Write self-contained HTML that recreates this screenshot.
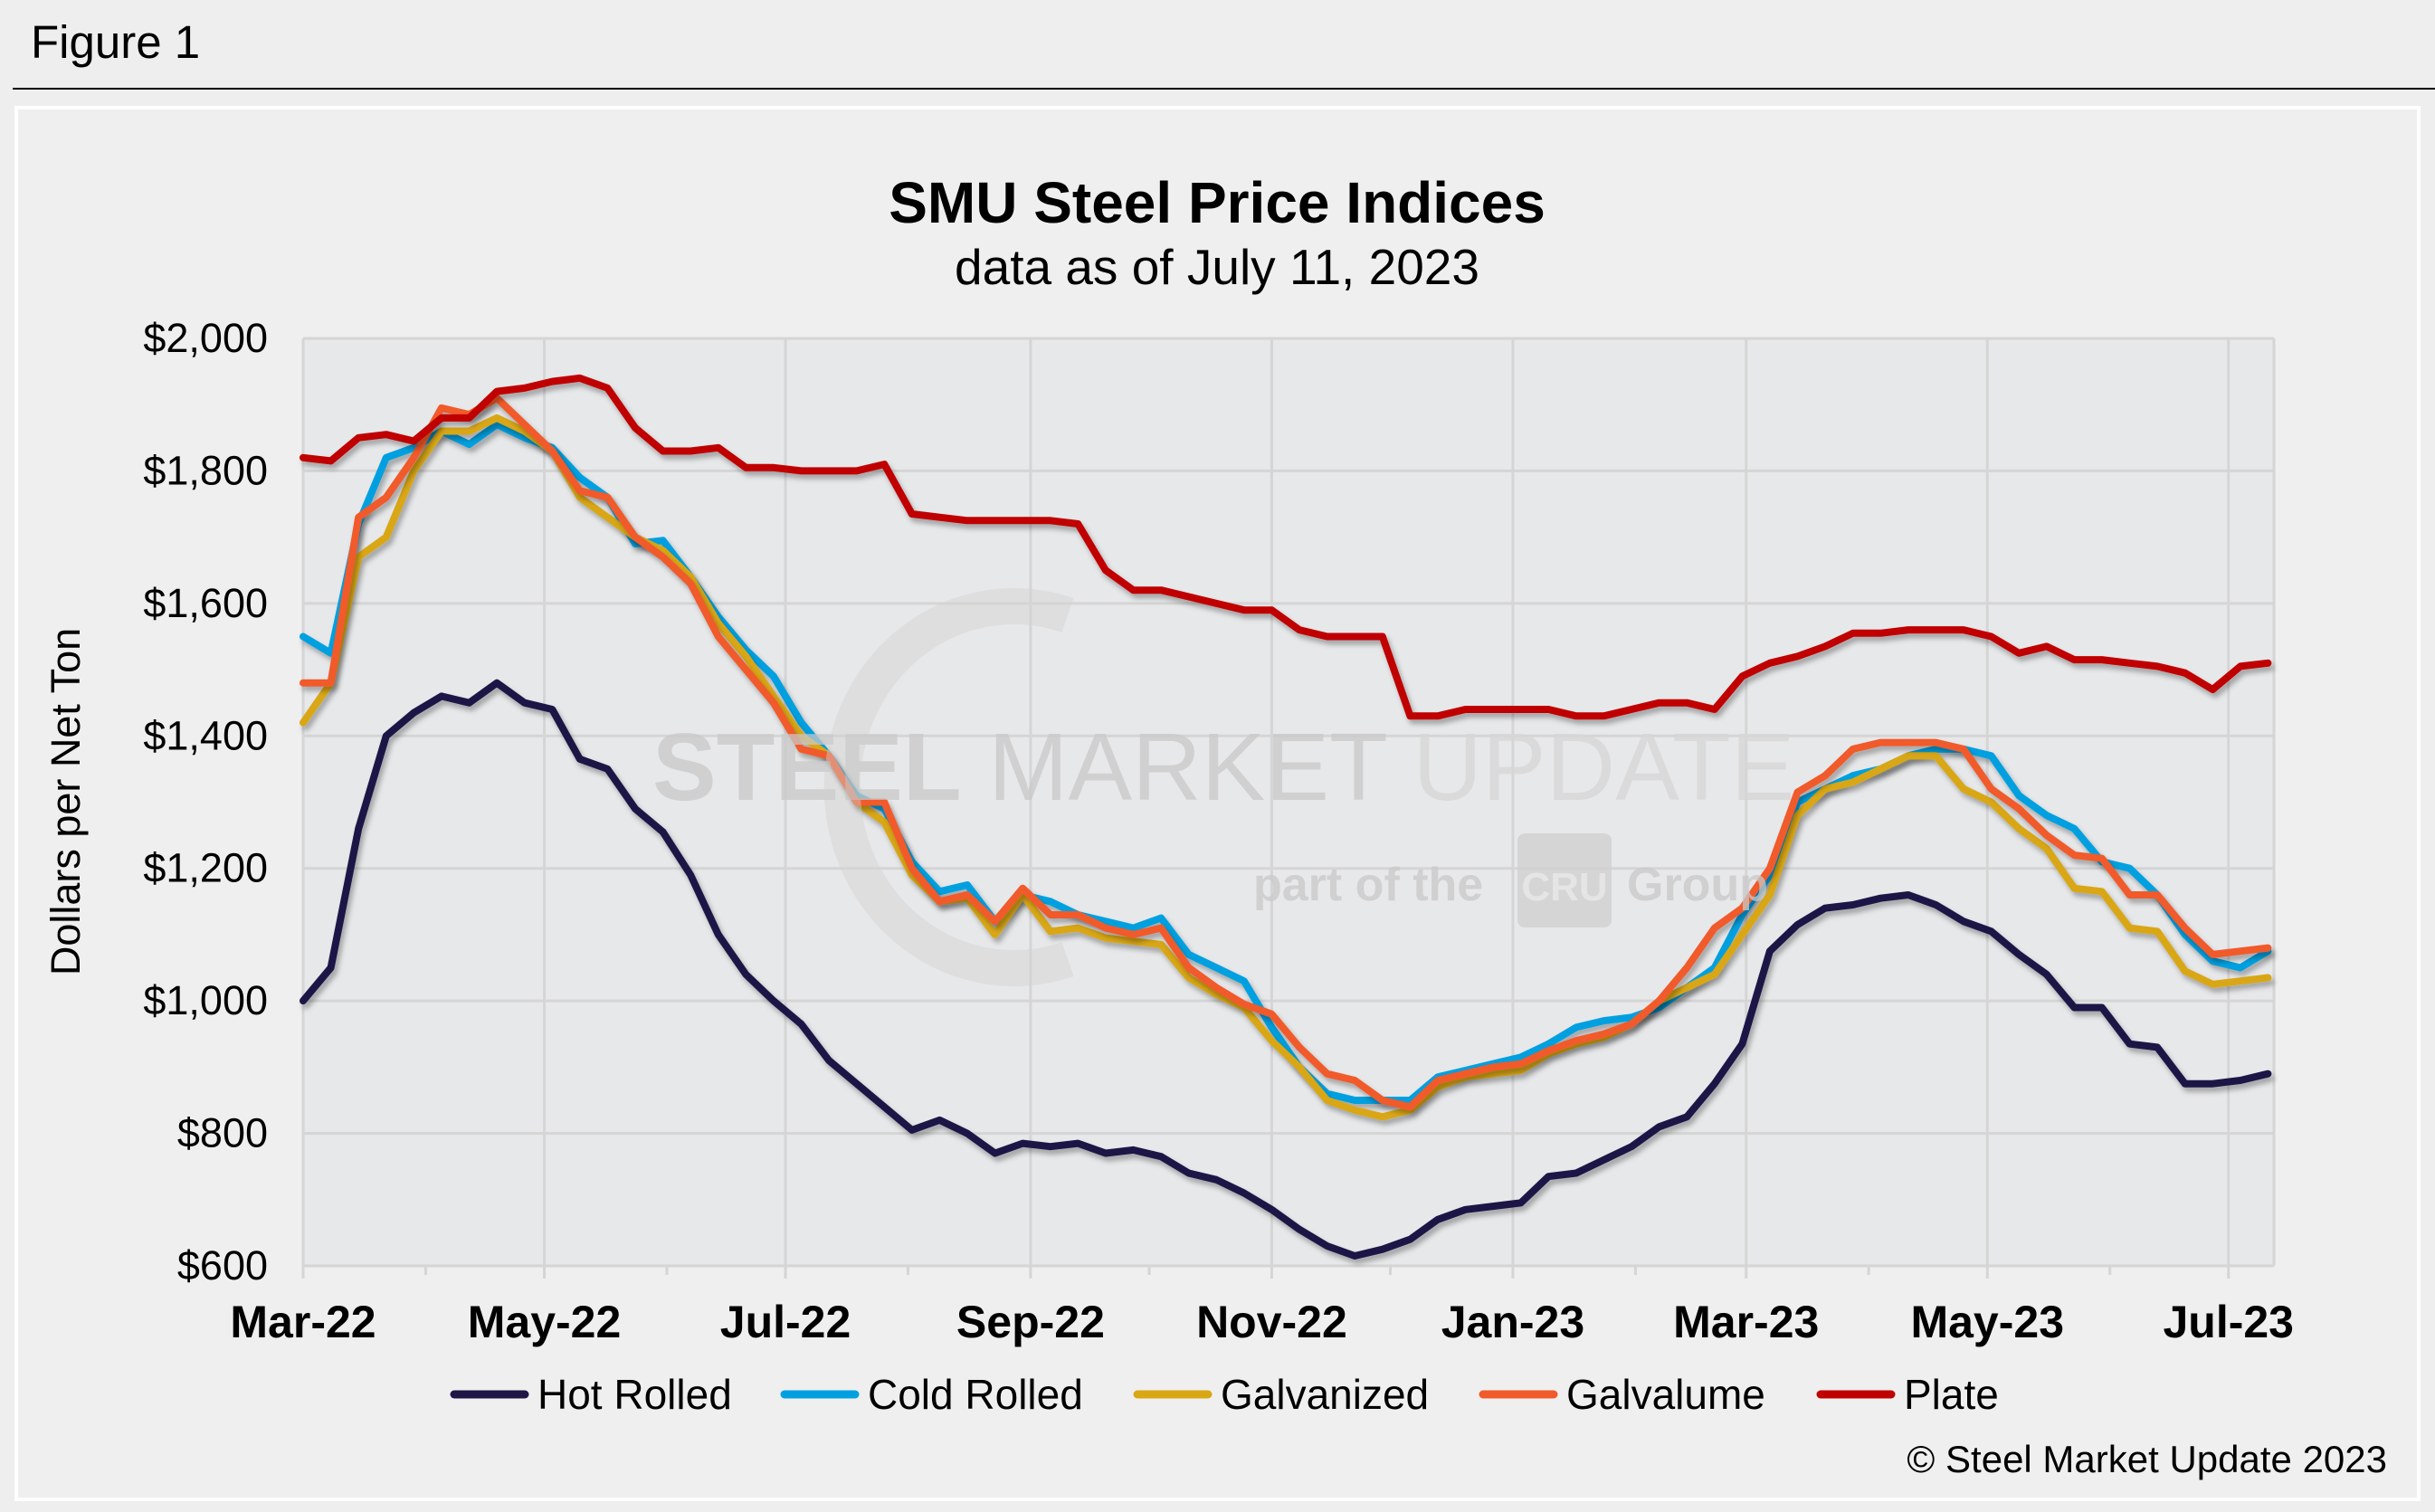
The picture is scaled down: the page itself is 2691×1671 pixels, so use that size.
<!DOCTYPE html>
<html><head><meta charset="utf-8"><style>
html,body{margin:0;padding:0;background:#efefef;}
svg{display:block;font-family:"Liberation Sans",sans-serif;}
</style></head><body>
<svg id="chart" width="2691" height="1671" viewBox="0 0 2691 1671">
<defs>
<filter id="sh" x="-5%" y="-5%" width="110%" height="110%"><feDropShadow dx="3" dy="5" stdDeviation="3" flood-color="#000" flood-opacity="0.3"/></filter>
</defs>
<rect x="0" y="0" width="2691" height="1671" fill="#eeeeee"/>
<text x="34" y="64" font-size="51" fill="#000">Figure 1</text>
<line x1="14" y1="98" x2="2691" y2="98" stroke="#000" stroke-width="2"/>
<rect x="18" y="119" width="2655" height="1538" fill="#efefef" stroke="#ffffff" stroke-width="4"/>
<text x="1345" y="246" font-size="64" font-weight="bold" text-anchor="middle">SMU Steel Price Indices</text>
<text x="1345" y="314" font-size="55" text-anchor="middle">data as of July 11, 2023</text>
<rect x="335" y="374" width="2178" height="1025" fill="#e7e8ea"/>
<g id="grid"></g>
<g id="axes"></g>
<g id="series"></g>
<g fill="#c8c8c8" opacity="0.75">
<path d="M1180,680 A190,200 0 1,0 1180,1060" fill="none" stroke="#d2d2d2" stroke-width="40" opacity="0.6"/>
<text x="721" y="884" font-size="106"><tspan font-weight="bold">STEEL</tspan> <tspan>MARKET</tspan> <tspan font-weight="normal" fill="#d6d6d6">UPDATE</tspan></text>
<text x="1385" y="995" font-size="52" font-weight="bold">part of the</text>
<rect x="1677" y="921" width="104" height="104" rx="8" fill="#cfcfcf"/>
<text x="1729" y="995" font-size="44" font-weight="bold" fill="#e4e4e4" text-anchor="middle">CRU</text>
<text x="1798" y="995" font-size="52" font-weight="bold">Group</text>
</g>
<text transform="translate(88,886) rotate(-90)" font-size="45" text-anchor="middle">Dollars per Net Ton</text>
<g id="legend"></g>
<text x="2638" y="1627" font-size="42" text-anchor="end">© Steel Market Update 2023</text>
</svg>
<script>
const yTicks = [600, 800, 1000, 1200, 1400, 1600, 1800, 2000];
const monthTickDays = [0, 61, 122, 184, 245, 306, 365, 426, 487];
const monthLabels = ["Mar-22","May-22","Jul-22","Sep-22","Nov-22","Jan-23","Mar-23","May-23","Jul-23"];
const minorTickDays = [31, 92, 153, 214, 275, 337, 396, 457];
const seriesNames = ["Hot Rolled","Cold Rolled","Galvanized","Galvalume","Plate"];
const hotRolled = [1000,1050,1260,1400,1435,1460,1450,1480,1450,1440,1365,1350,1290,1255,1190,1100,1040,1000,965,910,875,840,805,820,800,770,785,780,785,770,775,765,740,730,710,685,655,630,615,625,640,670,685,690,695,735,740,760,780,810,825,875,935,1075,1115,1140,1145,1155,1160,1145,1120,1105,1070,1040,990,990,935,930,875,875,880,890];
const coldRolled = [1550,1525,1720,1820,1835,1860,1840,1870,1850,1835,1790,1760,1690,1695,1640,1580,1530,1490,1420,1370,1310,1290,1210,1165,1175,1120,1160,1150,1130,1120,1110,1125,1070,1050,1030,960,900,860,850,850,850,885,895,905,915,935,960,970,975,990,1020,1050,1130,1190,1300,1320,1340,1350,1370,1380,1380,1370,1310,1280,1260,1210,1200,1160,1100,1060,1050,1075];
const galvanized = [1420,1480,1670,1700,1800,1860,1860,1880,1860,1830,1760,1730,1700,1680,1640,1570,1520,1460,1400,1370,1300,1270,1190,1150,1155,1100,1160,1105,1110,1095,1090,1085,1035,1010,990,940,900,850,835,825,835,870,885,890,895,920,935,945,965,1000,1020,1040,1100,1160,1280,1320,1330,1350,1370,1370,1320,1300,1260,1230,1170,1165,1110,1105,1045,1025,1030,1035];
const galvalume = [1480,1480,1730,1760,1820,1895,1885,1910,1870,1830,1770,1760,1700,1670,1630,1550,1500,1450,1380,1370,1300,1300,1200,1150,1160,1120,1170,1130,1130,1110,1100,1110,1050,1020,995,980,930,890,880,850,840,880,890,900,905,925,940,950,965,1000,1050,1110,1140,1200,1315,1340,1380,1390,1390,1390,1380,1320,1290,1250,1220,1215,1160,1160,1110,1070,1075,1080];
const plate = [1820,1815,1850,1855,1845,1880,1880,1920,1925,1935,1940,1925,1865,1830,1830,1835,1805,1805,1800,1800,1800,1810,1735,1730,1725,1725,1725,1725,1720,1650,1620,1620,1610,1600,1590,1590,1560,1550,1550,1550,1430,1430,1440,1440,1440,1440,1430,1430,1440,1450,1450,1440,1490,1510,1520,1535,1555,1555,1560,1560,1560,1550,1525,1535,1515,1515,1510,1505,1495,1470,1505,1510];

const NS="http://www.w3.org/2000/svg";
const X0=335,X1=2513,Y0=1399,Y1=374,DMAX=498.5;
function xScale(d){return X0+(d/DMAX)*(X1-X0);}
function yScale(v){return Y0-(v-600)/(2000-600)*(Y0-Y1);}
function mk(tag,attrs,parent){const e=document.createElementNS(NS,tag);for(const k in attrs)e.setAttribute(k,attrs[k]);parent.appendChild(e);return e;}
const grid=document.getElementById('grid'),axes=document.getElementById('axes'),ser=document.getElementById('series'),leg=document.getElementById('legend');
yTicks.forEach(v=>{
  const l=mk('line',{x1:X0,x2:X1,y1:yScale(v),y2:yScale(v),stroke:'#d5d5d5','stroke-width':3},grid);
  
  
  const t=mk('text',{x:296,y:yScale(v)+15,'font-size':45,'text-anchor':'end'},axes);
  t.textContent='$'+v.toLocaleString('en-US');
  
  
});
monthTickDays.forEach((d,i)=>{
  const l=mk('line',{x1:xScale(d),x2:xScale(d),y1:Y1,y2:Y0+14,stroke:'#d5d5d5','stroke-width':3},grid);
  
  
  const t=mk('text',{x:xScale(d),y:1478,'font-size':50,'font-weight':'bold','text-anchor':'middle'},axes);
  t.textContent=monthLabels[i];
  
  
});
minorTickDays.forEach(d=>{
  const l=mk('line',{x1:xScale(d),x2:xScale(d),y1:Y0,y2:Y0+10,stroke:'#d5d5d5','stroke-width':3},grid);
  
  
});
const rb=mk('line',{x1:X1,x2:X1,y1:Y1,y2:Y0,stroke:'#d5d5d5','stroke-width':3},grid);


const allSeries=[hotRolled,coldRolled,galvanized,galvalume,plate];
const colors=['#1f1646','#00a0e0','#d9a714','#f15a2b','#c00000'];
const drawOrder=[0,1,2,3,4];
drawOrder.forEach(si=>{
  const vals=allSeries[si];
  const pts=vals.map((v,i)=>xScale(i*7).toFixed(1)+','+yScale(v).toFixed(1)).join(' ');
  const p=mk('polyline',{points:pts,fill:'none',stroke:colors[si],'stroke-width':8,'stroke-linejoin':'round','stroke-linecap':'round',filter:'url(#sh)'},ser);
  
  
});
const legLineX=[498,863,1253,1635,2008];
legLineX.forEach((x,i)=>{
  const g=mk('g',{},leg);
  
  
  mk('line',{x1:x+4,x2:x+82,y1:1541,y2:1541,stroke:colors[i],'stroke-width':9,'stroke-linecap':'round'},g);
  const t=mk('text',{x:x+96,y:1557,'font-size':46},g);
  t.textContent=seriesNames[i];
});
</script>
</body></html>
